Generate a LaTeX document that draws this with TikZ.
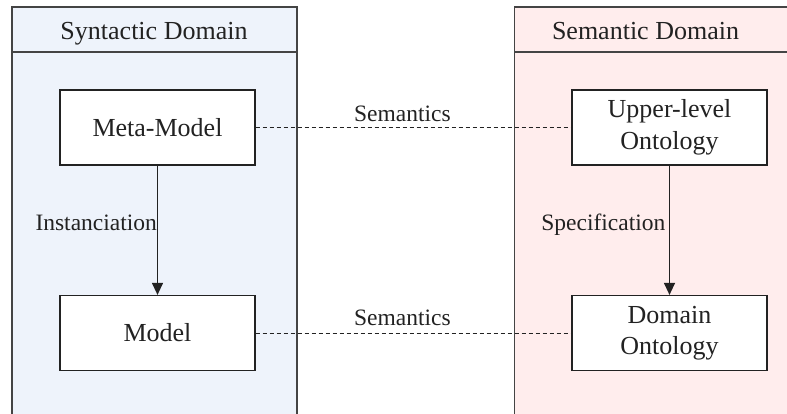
\documentclass[tikz,border=0pt]{standalone}
\usepackage{fontspec}
\setmainfont{Liberation Serif}
\usetikzlibrary{arrows.meta}
\definecolor{synfill}{HTML}{EEF3FB}
\definecolor{semfill}{HTML}{FFEDED}
\definecolor{frame}{HTML}{444444}
\definecolor{ink}{HTML}{222222}
\begin{document}
\begin{tikzpicture}[x=1pt,y=-1pt,
  font=\fontsize{23.5}{31}\selectfont,
  every node/.style={text=ink},
  big/.style={font=\fontsize{26}{31.5}\selectfont},
  box/.style={big, draw=ink, line width=1.2pt, fill=white, minimum width=195pt, minimum height=75pt, inner sep=0pt, align=center},
  frm/.style={draw=frame, line width=1.4pt},
  link/.style={draw=ink, line width=1pt, dash pattern=on 4pt off 3pt},
  arr/.style={draw=ink, line width=1.2pt, -{Triangle[length=12pt,width=11pt]}},
  lab/.style={inner sep=0pt}]
\useasboundingbox (0,0) rectangle (787,414);
\begin{scope}
\clip (0,0) rectangle (787,414);
\fill[synfill] (12,7) rectangle (297,430);
\draw[frm] (12,430) -- (12,7) -- (297,7) -- (297,430);
\draw[frm] (12,52) -- (297,52);
\fill[semfill] (514.5,7) rectangle (800,430);
\draw[frm] (514.5,430) -- (514.5,7) -- (800,7);
\draw[frm] (514.5,52) -- (800,52);
\end{scope}
\node[lab, big, anchor=base] (sh) at (154,40) {Syntactic Domain};
\node[lab, big, anchor=base] (seh) at (645.5,40) {Semantic Domain};
\node[box] (mm) at (157.5,127.5) {Meta-Model};
\node[box] (m) at (157.5,333) {Model};
\node[box] (ul) at (669.5,127.5) {Upper-level\\Ontology};
\node[box] (do) at (669.5,333) {Domain\\Ontology};
\draw[link] (mm) -- (ul) node[lab, pos=0.465, anchor=base, yshift=5.7pt] {Semantics};
\draw[link] (m) -- (do) node[lab, pos=0.465, anchor=base, yshift=7.3pt] {Semantics};
\draw[arr] (mm) -- (m) node[lab, pos=0.505, anchor=base east] {Instanciation};
\draw[arr] (ul) -- (do) node[lab, pos=0.5, anchor=base east, xshift=-3.5pt] {Specification};
\end{tikzpicture}
\end{document}
